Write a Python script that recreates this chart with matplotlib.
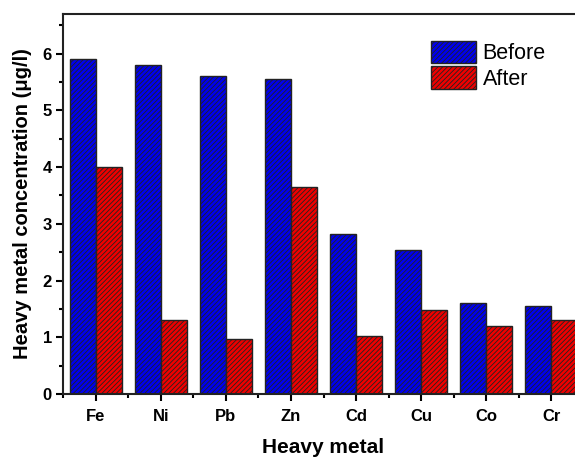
import matplotlib
matplotlib.use("Agg")
import matplotlib.pyplot as plt
import numpy as np
from matplotlib.ticker import MultipleLocator, FixedLocator

plt.rcParams['font.family'] = ['Liberation Sans', 'DejaVu Sans']
plt.rcParams['hatch.linewidth'] = 0.6
plt.rcParams['hatch.color'] = '#222222'

metals = ['Fe', 'Ni', 'Pb', 'Zn', 'Cd', 'Cu', 'Co', 'Cr']
before = [5.9, 5.8, 5.6, 5.55, 2.82, 2.54, 1.6, 1.55]
after = [4.0, 1.3, 0.97, 3.65, 1.03, 1.48, 1.2, 1.3]

fig = plt.figure(figsize=(5.75, 4.57), dpi=100)
ax = fig.add_axes([63 / 575, 63 / 457, 521 / 575, 380 / 457])

x = np.arange(len(metals))
w = 0.4
ax.bar(x - w / 2, before, w, color='#0000ee', edgecolor='#222222',
       linewidth=1.0, hatch='///////', label='Before')
ax.bar(x + w / 2, after, w, color='#ee0000', edgecolor='#222222',
       linewidth=1.0, hatch='///////', label='After')

ax.set_xlim(-0.5, 7.5)
ax.set_ylim(0, 6.7)
ax.set_xticks(x)
ax.set_xticklabels(metals, fontsize=12, fontweight='bold')
ax.xaxis.set_minor_locator(FixedLocator(np.arange(-0.5, 8, 1)))
ax.yaxis.set_major_locator(MultipleLocator(1))
ax.yaxis.set_minor_locator(MultipleLocator(0.5))
for lab in ax.get_yticklabels():
    lab.set_fontsize(12)
    lab.set_fontweight('bold')

ax.tick_params(which='major', direction='out', length=5, width=1.5, pad=6)
ax.tick_params(which='minor', direction='out', length=3, width=1.5)
ax.tick_params(axis='y', which='major', pad=3)
for s in ax.spines.values():
    s.set_linewidth(1.5)
    s.set_color('#222222')

ax.set_ylabel('Heavy metal concentration (\u03bcg/l)', fontsize=14.5,
              fontweight='bold', labelpad=8)
ax.set_xlabel('Heavy metal', fontsize=15, fontweight='bold', labelpad=10)

ax.legend(loc='upper left', bbox_to_anchor=(0.706, 0.93), frameon=False,
          fontsize=15.5, handlelength=2.1, handleheight=1.25, labelspacing=0.1,
          handletextpad=0.3, borderaxespad=0, borderpad=0)

fig.savefig('out.png', dpi=100)
